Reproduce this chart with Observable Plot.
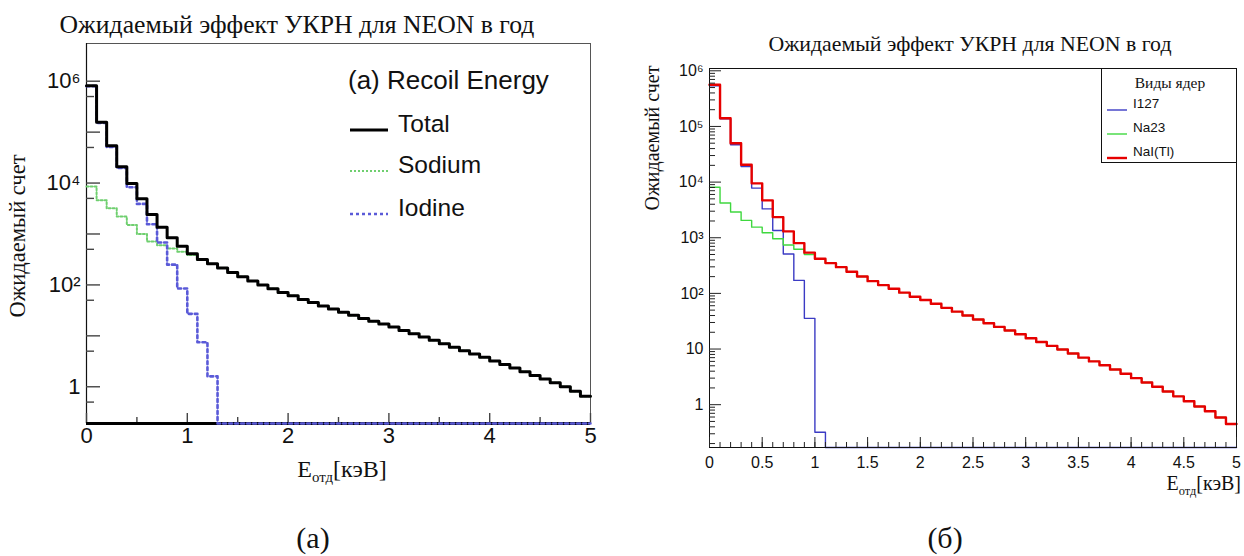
<!DOCTYPE html>
<html><head><meta charset="utf-8">
<script src="https://cdn.jsdelivr.net/npm/d3@7"></script>
<script src="https://cdn.jsdelivr.net/npm/@observablehq/plot@0.6"></script>
<style>
body{margin:0;background:#fff;}
#root{position:relative;width:1244px;height:556px;overflow:hidden;background:#fff;}
.abs{position:absolute;white-space:nowrap;line-height:1;}
.c{transform:translate(-50%,-50%);}
.serif{font-family:"Liberation Serif","DejaVu Serif",serif;color:#111;}
.sans{font-family:"Liberation Sans",Arial,sans-serif;color:#111;}
#pa,#pb{position:absolute;top:0;}
#pa{left:0;} #pb{left:622px;}
</style></head><body><div id="root">
<div id="pa"></div><div id="pb"></div>
</div>
<script>
// ---------- data ----------
const binEdges = [0,0.1,0.2,0.3,0.4,0.5,0.6,0.7,0.8,0.9,1,1.1,1.2,1.3,1.4,1.5,1.6,1.7,1.8,1.9,2,2.1,2.2,2.3,2.4,2.5,2.6,2.7,2.8,2.9,3,3.1,3.2,3.3,3.4,3.5,3.6,3.7,3.8,3.9,4,4.1,4.2,4.3,4.4,4.5,4.6,4.7,4.8,4.9,5];

// panel (a)
const totalA = [810000,156000,54000,21000,9800,4900,2420,1360,841,577,
  407,315,259,215,176,145,120,100,84,71,
  61,52,45,38.5,33.5,29,25.3,22,19.4,17.0,
  14.9,12.8,11.0,9.5,8.2,7.0,6.0,5.1,4.4,3.8,
  3.2,2.75,2.33,1.97,1.67,1.42,1.20,1.0,0.82,0.65];
const sodiumA = [8600,4600,3200,2200,1500,1000,710,600,520,450,
  385,308,257,215,176,145,120,100,84,71,
  61,52,45,38.5,33.5,29,25.3,22,19.4,17.0,
  14.9,12.8,11.0,9.5,8.2,7.0,6.0,5.1,4.4,3.8,
  3.2,2.75,2.33,1.97,1.67,1.42,1.20,1.0,0.82,0.65];
const iodineA = [800000,152000,51000,19800,8300,3900,1550,680,250,85,
  27,7.5,1.6,0,0,0,0,0,0,0,
  0,0,0,0,0,0,0,0,0,0,
  0,0,0,0,0,0,0,0,0,0,
  0,0,0,0,0,0,0,0,0,0];

// panel (b)
const naiB = [560000,140000,50000,20500,9500,4700,2350,1300,800,540,
  420,350,296,245,201,166,141,121,103,87,
  76,65,55,47,40,34,29,25,21.5,18.4,
  15.6,13.4,11.4,9.8,8.3,7.0,6.0,5.1,4.3,3.6,
  3.0,2.5,2.1,1.73,1.41,1.15,0.93,0.76,0.59,0.45];
const na23B = [8100,4200,2900,2050,1550,1230,960,740,620,500,
  420,350,296,245,201,166,141,121,103,87,
  76,65,55,47,40,34,29,25,21.5,18.4,
  15.6,13.4,11.4,9.8,8.3,7.0,6.0,5.1,4.3,3.6,
  3.0,2.5,2.1,1.73,1.41,1.15,0.93,0.76,0.59,0.45];
const i127B = [540000,137000,47000,19000,7800,3300,1350,510,171,35.6,
  0.32,0,0,0,0,0,0,0,0,0,
  0,0,0,0,0,0,0,0,0,0,
  0,0,0,0,0,0,0,0,0,0,
  0,0,0,0,0,0,0,0,0,0];

// ticks
const yDecadesA = [1,10,100,1e3,1e4,1e5,1e6];
const yFivesA = [0.5,5,50,500,5e3,5e4,5e5];
const yLabelTicksA = [1,100,1e4,1e6];
const yLabelTextA = ["1","10\u00b2","10\u2074","10\u2076"];
const xMajorA = [0,1,2,3,4,5];
const xMinorA = [0.5,1.5,2.5,3.5,4.5];

const yDecadesB = [1,10,100,1e3,1e4,1e5,1e6];
const yLabelTextB = ["1","10","10\u00b2","10\u00b3","10\u2074","10\u2075","10\u2076"];
const xMajorB = [0,0.5,1,1.5,2,2.5,3,3.5,4,4.5,5];
const xLabelTextB = ["0","0.5","1","1.5","2","2.5","3","3.5","4","4.5","5"];
const xMinorB = binEdges;

// ---------- helpers ----------
function stepRows(values){ return binEdges.map((x,i)=>({x, v: values[Math.min(i, values.length-1)]})); }
const SANS = '"Liberation Sans", Arial, sans-serif';

// ---------- panel (a) ----------
const yMinA = 0.19, yMaxA = 5.5e6;
const clampA = d => Math.max(d.v, yMinA);
const plotA = Plot.plot({
  width: 622, height: 556,
  marginLeft: 86, marginRight: 32, marginTop: 43, marginBottom: 133,
  x: {domain: [0,5]},
  y: {type: "log", domain: [yMinA, yMaxA]},
  style: {background: "transparent", fontFamily: SANS, overflow: "visible"},
  marks: [
    Plot.frame({stroke: "#555", strokeWidth: 1}),
    Plot.ruleX([0], {stroke: "#111", strokeWidth: 1.2}),
    Plot.axisY(yDecadesA, {tickSize: -14, fill: "none", stroke: "#444", strokeWidth: 1.4}),
    Plot.axisY(yFivesA, {tickSize: -8, fill: "none", stroke: "#444", strokeWidth: 1.4}),
    Plot.axisY(yLabelTicksA, {tickSize: 0, tickPadding: 6, fontSize: 22, fill: "#111", label: null,
      tickFormat: d => yLabelTextA[yLabelTicksA.indexOf(d)]}),
    Plot.axisX(xMajorA, {tickSize: -10, fill: "none", stroke: "#444", strokeWidth: 1.4}),
    Plot.axisX(xMinorA, {tickSize: -6, fill: "none", stroke: "#444", strokeWidth: 1.4}),
    Plot.axisX(xMajorA, {tickSize: 0, tickPadding: 4, fontSize: 22, fill: "#111", label: null, tickFormat: d => String(d)}),
    Plot.ruleY([yMinA], {stroke: "#000", strokeWidth: 3}),
    Plot.line(stepRows(sodiumA), {x: "x", y: clampA, curve: "step-after", stroke: "#6fcf6f", strokeWidth: 2, strokeDasharray: "2,2"}),
    Plot.line(stepRows(iodineA), {x: "x", y: clampA, curve: "step-after", stroke: "#5a5ad8", strokeWidth: 2.6, strokeDasharray: "3,3"}),
    Plot.line(stepRows(totalA), {x: "x", y: clampA, curve: "step-after", stroke: "#000", strokeWidth: 3})
  ]
});
document.getElementById("pa").appendChild(plotA);

// ---------- panel (b) ----------
const yMinB = 0.17, yMaxB = 1.1e6;
const clampB = d => Math.max(d.v, yMinB);
const yMinorB = [];
for (const dec of [0.1,1,10,100,1e3,1e4,1e5]) for (let m = 2; m <= 9; m++) { const t = +(m*dec).toPrecision(3); if (t >= yMinB && t <= yMaxB) yMinorB.push(t); }
const plotB = Plot.plot({
  width: 622, height: 556,
  marginLeft: 87, marginRight: 8, marginTop: 68, marginBottom: 109,
  x: {domain: [0,5]},
  y: {type: "log", domain: [yMinB, yMaxB]},
  style: {background: "transparent", fontFamily: SANS, overflow: "visible"},
  marks: [
    Plot.line(stepRows(i127B), {x: "x", y: clampB, curve: "step-after", stroke: "#3b3bc4", strokeWidth: 1.4}),
    Plot.line(stepRows(na23B), {x: "x", y: clampB, curve: "step-after", stroke: "#3fd83f", strokeWidth: 1.4}),
    Plot.line(stepRows(naiB), {x: "x", y: clampB, curve: "step-after", stroke: "#e60000", strokeWidth: 2.4}),
    Plot.frame({stroke: "#111", strokeWidth: 1}),
    Plot.axisY(yDecadesB, {tickSize: -12, fill: "none", stroke: "#222"}),
    Plot.axisY(yMinorB, {tickSize: -6, fill: "none", stroke: "#222"}),
    Plot.axisY(yDecadesB, {tickSize: 0, tickPadding: 6, fontSize: 16, fill: "#111", label: null,
      tickFormat: d => yLabelTextB[yDecadesB.indexOf(d)]}),
    Plot.axisX(xMajorB, {tickSize: -10, fill: "none", stroke: "#222"}),
    Plot.axisX(xMinorB, {tickSize: -5, fill: "none", stroke: "#222"}),
    Plot.axisX(xMajorB, {tickSize: 0, tickPadding: 9, fontSize: 16, fill: "#111", label: null,
      tickFormat: d => xLabelTextB[xMajorB.indexOf(d)]})
  ]
});
document.getElementById("pb").appendChild(plotB);

// ---------- texts ----------
const root = document.getElementById("root");
function addText(html, cls, style){ const el = document.createElement("div"); el.className = "abs " + cls; el.innerHTML = html; Object.assign(el.style, style); root.appendChild(el); return el; }
function sample(stroke, width, dash, w){ return `<svg width="${w}" height="6" style="vertical-align:middle"><line x1="0" x2="${w}" y1="3" y2="3" stroke="${stroke}" stroke-width="${width}" ${dash ? `stroke-dasharray="${dash}"` : ""}/></svg>`; }

// panel (a) texts
addText("Ожидаемый эффект УКРН для NEON в год", "serif c", {left: "297px", top: "25px", fontSize: "25.7px"});
addText("Ожидаемый счет", "serif", {left: "18px", top: "236px", fontSize: "22.5px", transform: "translate(-50%,-50%) rotate(-90deg)"});
addText("E<sub style='font-size:0.62em'>отд</sub>[кэВ]", "serif c", {left: "342px", top: "471px", fontSize: "24px"});
addText("(а)", "serif c", {left: "313px", top: "538px", fontSize: "30px"});
addText("(a) Recoil Energy", "sans", {left: "348px", top: "80px", fontSize: "26px", transform: "translateY(-50%)"});
const legA = [["Total", "#000", 3, null, 124], ["Sodium", "#6fcf6f", 2, "2,2", 165], ["Iodine", "#5a5ad8", 2.6, "3,3", 208]];
for (const [t, s, w, d, y] of legA) {
  addText(sample(s, w, d, 38), "", {left: "350px", top: (y - 3) + "px"});
  addText(t, "sans", {left: "398px", top: y + "px", fontSize: "24.5px", transform: "translateY(-50%)"});
}

// panel (b) texts
addText("Ожидаемый эффект УКРН для NEON в год", "serif c", {left: "970px", top: "45px", fontSize: "21.8px"});
addText("Ожидаемый счет", "serif", {left: "652px", top: "138px", fontSize: "20px", transform: "translate(-50%,-50%) rotate(-90deg)"});
addText("E<sub style='font-size:0.62em'>отд</sub>[кэВ]", "serif", {right: "3px", top: "485px", fontSize: "20px", transform: "translateY(-50%)"});
addText("(б)", "serif c", {left: "945px", top: "538px", fontSize: "30px"});
addText("", "", {left: "1101px", top: "68px", width: "136px", height: "95px", border: "1px solid #111", background: "#fff", boxSizing: "border-box"});
addText("Виды ядер", "serif c", {left: "1170px", top: "83px", fontSize: "15.5px"});
const legB = [["I127", "#3b3bc4", 1.4, 104], ["Na23", "#3fd83f", 1.4, 128], ["NaI(Tl)", "#e60000", 2.4, 152]];
for (const [t, s, w, y] of legB) {
  addText(sample(s, w, null, 20), "", {left: "1107px", top: (y - 3) + "px"});
  addText(t, "sans", {left: "1133px", top: y + "px", fontSize: "13.5px", transform: "translateY(-50%)"});
}
</script>
</body></html>
